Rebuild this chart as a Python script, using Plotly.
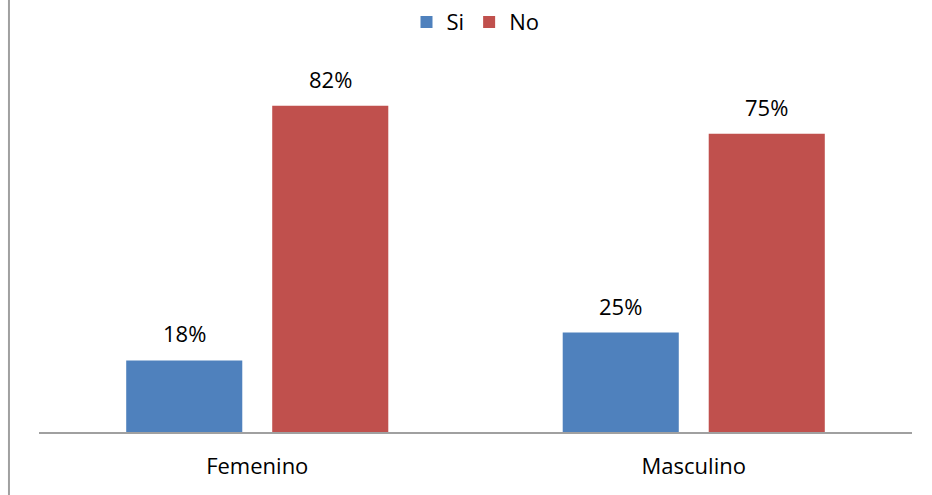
import plotly.graph_objects as go

# Survey responses by sex
categories = ["Femenino", "Masculino"]
si_values = [0.18, 0.25]
no_values = [0.82, 0.75]
series_names = ["Si", "No"]
series_colors = ["#4F81BD", "#C0504D"]

FONT = "Open Sans"
FSIZE = 22
BARGAP = 0.331
BARGROUPGAP = 0.205

fig = go.Figure()
for name, vals, color in zip(series_names, [si_values, no_values], series_colors):
    fig.add_trace(go.Bar(
        name=name, x=categories, y=vals,
        marker=dict(color=color, line=dict(width=0)),
    ))

# Percentage labels placed above each bar
annotations = []
n = len(series_names)
slot = (1 - BARGAP) / n
for i, vals in enumerate([si_values, no_values]):
    for j, v in enumerate(vals):
        offset = (i - (n - 1) / 2) * slot
        annotations.append(dict(
            x=j + offset, y=v, xref="x", yref="y",
            text=f"{round(v * 100)}%", showarrow=False,
            yanchor="bottom", yshift=10,
            font=dict(family=FONT, size=FSIZE, color="#000000"),
        ))

fig.update_layout(
    width=932, height=495,
    margin=dict(l=39, r=20, t=74, b=63, autoexpand=False),
    paper_bgcolor="white", plot_bgcolor="white",
    barmode="group", bargap=BARGAP, bargroupgap=BARGROUPGAP,
    font=dict(family=FONT, size=FSIZE, color="#000000"),
    showlegend=True,
    legend=dict(orientation="h", x=0.5, xanchor="center", y=1.145, yanchor="middle",
                font=dict(family=FONT, size=FSIZE), traceorder="normal",
                itemwidth=30, tracegroupgap=0),
    xaxis=dict(showline=True, linecolor="#a0a0a0", linewidth=2, ticks="",
               showgrid=False, zeroline=False, tickfont=dict(family=FONT, size=FSIZE),
               range=[-0.5, 1.5], type="category", ticklabelstandoff=14),
    yaxis=dict(range=[0, 0.9], showticklabels=False, showgrid=False,
               zeroline=False, showline=False),
    annotations=annotations,
    shapes=[dict(type="line", xref="paper", yref="paper",
                 x0=-0.0344, x1=-0.0344, y0=-0.2, y1=1.25,
                 line=dict(color="#a0a0a0", width=2))],
)

fig.write_html("out.html")
